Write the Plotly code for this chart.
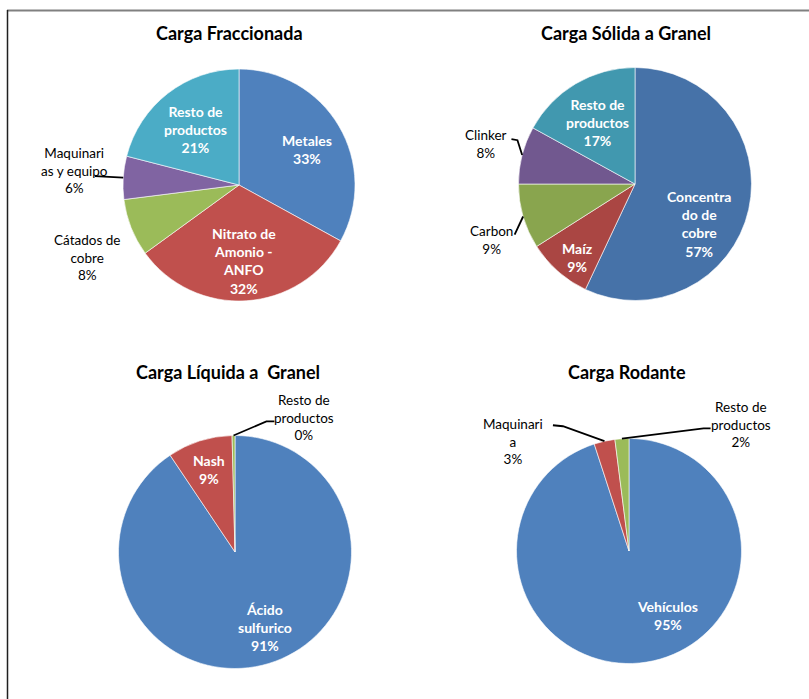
import math
import plotly.graph_objects as go

W, H = 809, 699
FONT = "Lato"

# ---------------- data ----------------
t1_title = "Carga Fraccionada"
t1_labels = ["Metales", "Nitrato de<br>Amonio -<br>ANFO", "Cátados de<br>cobre", "Maquinari<br>as y equipo", "Resto de<br>productos"]
t1_values = [33, 32, 8, 6, 21]

t2_title = "Carga Sólida a Granel"
t2_labels = ["Concentra<br>do de<br>cobre", "Maíz", "Carbon", "Clinker", "Resto de<br>productos"]
t2_values = [57, 9, 9, 8, 17]

t3_title = "Carga Líquida a  Granel"
t3_labels = ["Ácido<br>sulfurico", "Nash", "Resto de<br>productos"]
t3_values = [90.6, 9.0, 0.4]

t4_title = "Carga Rodante"
t4_labels = ["Vehículos", "Maquinari<br>a", "Resto de<br>productos"]
t4_values = [95, 3, 2]

# ---------------- styles ----------------
pal_a = ["#4F81BD", "#C0504D", "#9BBB59", "#8064A2", "#4BACC6"]
pal_b = ["#4672A8", "#AA4643", "#89A54E", "#71588F", "#4198AF"]

# per pie: center px, radius px, colors, per-slice label style:
# (inside?, radial factor, angle offset deg, leader points relative to label centre or None)
pies = [
    dict(title=t1_title, labels=t1_labels, values=t1_values, cx=239, cy=185, r=116, colors=pal_a,
         tx=229, ty=33,
         lab=[(True, 0.66, 3, None), (True, 0.66, 0, None), (False, 1.45, -4, None),
              (False, 1.42, 1.6, [(20, 6)]), (True, 0.61, 0, None)]),
    dict(title=t2_title, labels=t2_labels, values=t2_values, cx=635, cy=184, r=116.5, colors=pal_b,
         tx=626, ty=33,
         lab=[(True, 0.65, 19, None), (True, 0.80, -3, None), (False, 1.32, -5, [(23, -5)]),
              (False, 1.32, 0.6, [(25, -5), (31, -4)]), (True, 0.62, -1, None)]),
    dict(title=t3_title, labels=t3_labels, values=t3_values, cx=235, cy=552, r=116.5, colors=pal_a,
         tx=228, ty=372,
         lab=[(True, 0.70, -5, None), (True, 0.74, 0.4, None), (False, 1.30, 28, [(-30, 4), (-38, 4)])]),
    dict(title=t4_title, labels=t4_labels, values=t4_values, cx=629, cy=551, r=112.5, colors=pal_a,
         tx=627, ty=372,
         lab=[(True, 0.67, -22, None), (False, 1.42, -34, [(40, -16), (50, -15)]),
              (False, 1.50, 45, [(-30, 4), (-37, 4)])]),
]

fig = go.Figure()
annotations = []
shapes = []


def px2paper(x, y):
    return x / W, 1 - y / H


for p in pies:
    cx, cy, r = p["cx"], p["cy"], p["r"]
    fig.add_trace(go.Pie(
        labels=[l.replace("<br>", " ") for l in p["labels"]],
        values=p["values"],
        sort=False, direction="clockwise", rotation=0,
        marker=dict(colors=p["colors"], line=dict(color="white", width=0.6)),
        textinfo="none", hoverinfo="label+percent", showlegend=False,
        domain=dict(x=[(cx - r) / W, (cx + r) / W], y=[1 - (cy + r) / H, 1 - (cy - r) / H]),
    ))
    # title
    x, y = px2paper(p["tx"], p["ty"])
    annotations.append(dict(x=x, y=y, xref="paper", yref="paper", text="<b>%s</b>" % p["title"],
                            xanchor="center", yanchor="middle",
                            showarrow=False, font=dict(family=FONT, size=18, color="black")))
    total = sum(p["values"])
    cum = 0
    for lab, v, (inside, f, dth, leader) in zip(p["labels"], p["values"], p["lab"]):
        frac = v / total
        mid = (cum + frac / 2) * 360
        cum += frac
        pct = "%d%%" % int(frac * 100 + 0.5)
        ang = math.radians(mid + dth)
        lx = cx + f * r * math.sin(ang)
        ly = cy - f * r * math.cos(ang)
        if inside:
            text = "<b>%s<br>%s</b>" % (lab, pct)
            color = "white"
            size = 14
        else:
            text = "%s<br>%s" % (lab, pct)
            color = "black"
            size = 13.5
        x, y = px2paper(lx, ly)
        annotations.append(dict(x=x, y=y, xref="paper", yref="paper", text=text,
                                xanchor="center", yanchor="middle",
                                showarrow=False, font=dict(family=FONT, size=size, color=color)))
        if leader:
            am = math.radians(mid)
            tipx = cx + r * math.sin(am)
            tipy = cy - r * math.cos(am)
            pts = [(lx + dx, ly + dy) for dx, dy in leader] + [(tipx, tipy)]
            path = ""
            for i, (px, py) in enumerate(pts):
                qx, qy = px2paper(px, py)
                path += ("M" if i == 0 else " L") + " %.5f,%.5f" % (qx, qy)
            shapes.append(dict(type="path", xref="paper", yref="paper", path=path,
                               line=dict(color="black", width=1.8)))

# frame lines of the chart area
shapes.append(dict(type="line", xref="paper", yref="paper", x0=7 / W, x1=1, y0=1 - 10.5 / H, y1=1 - 10.5 / H,
                   line=dict(color="#808080", width=2)))
shapes.append(dict(type="line", xref="paper", yref="paper", x0=7.5 / W, x1=7.5 / W, y0=0, y1=1 - 10 / H,
                   line=dict(color="#202020", width=1.5)))

fig.update_layout(
    width=W, height=H,
    margin=dict(l=0, r=0, t=0, b=0),
    paper_bgcolor="white", plot_bgcolor="white",
    font=dict(family=FONT),
    annotations=annotations, shapes=shapes,
)

fig.write_html("out.html")
